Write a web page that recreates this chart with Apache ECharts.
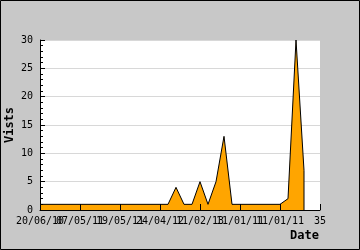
<!DOCTYPE html>
<html><head><meta charset="utf-8">
<script src="https://cdn.jsdelivr.net/npm/echarts@6/dist/echarts.min.js"></script>
<style>html,body{margin:0;padding:0;background:#c8c8c8}#c{width:360px;height:250px}</style>
</head><body><div id="c"></div>
<script>
const dayIndex = [0,1,2,3,4,5,6,7,8,9,10,11,12,13,14,15,16,17,18,19,20,21,22,23,24,25,26,27,28,29,30,31,32,33];
const visits   = [1,1,1,1,1,1,1,1,1,1,1,1,1,1,1,1,1,4,1,1,5,1,5,13,1,1,1,1,1,1,1,2,30,7];
const xTickLabels = {0:'20/06/10',5:'07/05/11',10:'19/05/11',15:'24/04/12',20:'11/02/13',25:'11/01/11',30:'11/01/11',35:'35'};
const yTicks = [0,5,10,15,20,25,30];

const pts = dayIndex.map((d,i)=>[d,visits[i]]);
const last = pts[pts.length-1];
const closeEdge = [[last[0],last[1]],[last[0],0]];

const tickFont = {fontFamily:'DejaVu Sans Mono',fontSize:10,color:'#000'};
// two label layers so overlapping date labels are all drawn
const evenLabel = v => (v % 10 === 0 && xTickLabels[v] !== undefined) ? xTickLabels[v] : '';
const oddLabel  = v => (v % 10 === 5 && xTickLabels[v] !== undefined) ? xTickLabels[v] : '';
const baseX = {type:'value',min:0,max:35,interval:5,position:'bottom',offset:0,gridIndex:0,splitLine:{show:false}};

const chart = echarts.init(document.getElementById('c'),null,{renderer:'canvas'});
chart.setOption({
  backgroundColor:'#c8c8c8',
  animation:false,
  grid:{left:40,right:40,top:40,bottom:40,show:true,backgroundColor:'#fff',borderWidth:0},
  xAxis:[
    Object.assign({},baseX,{z:5,
      axisLine:{lineStyle:{color:'#000',width:1}},
      axisTick:{inside:true,length:6,lineStyle:{color:'#000'}},
      axisLabel:Object.assign({margin:6,formatter:evenLabel,showMinLabel:true,showMaxLabel:true},tickFont)}),
    Object.assign({},baseX,{z:5,
      axisLine:{show:false},axisTick:{show:false},
      axisLabel:Object.assign({margin:6,formatter:oddLabel,showMinLabel:true,showMaxLabel:true},tickFont)})
  ],
  yAxis:[
    {type:'value',min:yTicks[0],max:yTicks[yTicks.length-1],interval:5,z:5,position:'left',
      axisLine:{show:true,lineStyle:{color:'#000',width:1}},
      axisTick:{show:true,inside:true,length:5,lineStyle:{color:'#000'}},
      minorTick:{show:true,splitNumber:5,length:3,lineStyle:{color:'#000'}},
      splitLine:{show:false},
      axisLabel:Object.assign({margin:7},tickFont)},
    {type:'value',min:yTicks[0],max:yTicks[yTicks.length-1],interval:5,z:0,position:'right',
      axisLine:{show:false},axisTick:{show:false},axisLabel:{show:false},
      splitLine:{show:true,lineStyle:{color:'#d8d8d8',width:1}}}
  ],
  graphic:[
    {type:'rect',shape:{x:0.5,y:0.5,width:359,height:249},style:{fill:'none',stroke:'#000',lineWidth:1},z:100},
    {type:'text',x:10,y:125,rotation:Math.PI/2,style:{text:'Vists',font:'bold 12px "DejaVu Sans Mono"',fill:'#000',textAlign:'center',textVerticalAlign:'middle'}},
    {type:'text',x:319,y:236,style:{text:'Date',font:'bold 12px "DejaVu Sans Mono"',fill:'#000',textAlign:'right',textVerticalAlign:'middle'}}
  ],
  series:[
    {type:'line',data:pts,symbol:'none',lineStyle:{color:'#000',width:1},areaStyle:{color:'#ffa500',opacity:1},z:2},
    {type:'line',data:closeEdge,symbol:'none',lineStyle:{color:'#000',width:1},z:3}
  ]
});
</script></body></html>
